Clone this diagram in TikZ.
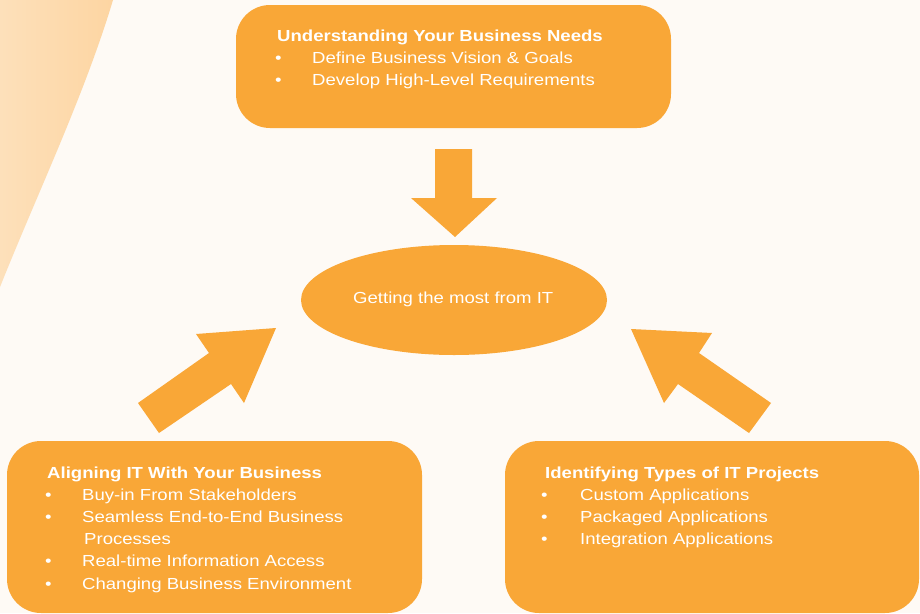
\documentclass[tikz,border=0pt]{standalone}
\usepackage{fontspec}
\setmainfont[FakeStretch=1.16]{Liberation Sans}
\usepackage{xcolor}
\usepackage{tikz}
\usetikzlibrary{shapes.geometric}

\definecolor{itorange}{HTML}{F9A737}
\definecolor{paper}{HTML}{FEFAF5}
\definecolor{peachlight}{HTML}{FDE0BA}
\definecolor{peachdark}{HTML}{FDD5A2}

\tikzset{
    itbox/.style={fill=itorange, rounded corners=34pt, inner sep=0pt},
    hub/.style={ellipse, fill=itorange, inner sep=0pt},
    bigarrow/.style={fill=itorange},
    head/.style={anchor=base west, text=white, font=\fontsize{16}{19}\selectfont\bfseries, inner sep=0pt},
    item/.style={anchor=base west, text=white, font=\fontsize{16}{19}\selectfont, inner sep=0pt},
}

\begin{document}
\begin{tikzpicture}[x=1pt, y=-1pt]
    % page and the peach sweep on the left
    \fill[paper] (0,0) rectangle (920,613);
    \useasboundingbox (0,0) rectangle (920,613);
    \shade[left color=peachlight, right color=peachdark]
        (0,0) -- (113,0) .. controls (84.5,95) and (38,192) .. (0,287) -- cycle;

    % the three boxes and the hub
    \node[itbox, minimum width=435pt, minimum height=123pt] (needs) at (453.5,66.5) {};
    \node[itbox, minimum width=415pt, minimum height=172pt] (align) at (214.5,527) {};
    \node[itbox, minimum width=414pt, minimum height=172pt] (types) at (712,527) {};
    \node[hub, minimum width=306pt, minimum height=110pt] (most) at (454,300) {};
    \node[item] (most-text) at (353,303) {Getting the most from IT};

    % block arrows into the hub
    \fill[bigarrow] (435,149) -- (472,149) -- (472,198) -- (497,198) -- (455,237)
        -- (411,198) -- (435,198) -- cycle;
    \fill[bigarrow] (138,403) -- (209,353) -- (196,334) -- (276,328) -- (244,403)
        -- (231,384) -- (159,433) -- cycle;
    \fill[bigarrow] (771,403) -- (699,353) -- (712,333) -- (631,329) -- (664,403)
        -- (678,384) -- (749,433) -- cycle;

    % top box
    \node[head] (needs-title) at (277,41) {Understanding Your Business Needs};
    \foreach \txt [count=\i] in {Define Business Vision \& Goals, Develop High-Level Requirements} {
        \node[item] (needs-dot-\i) at (275,41+\i*22.3) {\textbullet};
        \node[item] (needs-\i) at (312,41+\i*22.3) {\txt};
    }

    % bottom left box
    \node[head] (align-title) at (47,478) {Aligning IT With Your Business};
    \foreach \txt/\row [count=\i] in {Buy-in From Stakeholders/1, Seamless End-to-End Business/2,
        Real-time Information Access/4, Changing Business Environment/5} {
        \node[item] (align-dot-\i) at (45,478+\row*22.2) {\textbullet};
        \node[item] (align-\i) at (82,478+\row*22.2) {\txt};
    }
    \node[item] (align-more) at (84,544.6) {Processes};

    % bottom right box
    \node[head] (types-title) at (545,478) {Identifying Types of IT Projects};
    \foreach \txt [count=\i] in {Custom Applications, Packaged Applications, Integration Applications} {
        \node[item] (types-dot-\i) at (541,478+\i*22.2) {\textbullet};
        \node[item] (types-\i) at (580,478+\i*22.2) {\txt};
    }
\end{tikzpicture}
\end{document}
